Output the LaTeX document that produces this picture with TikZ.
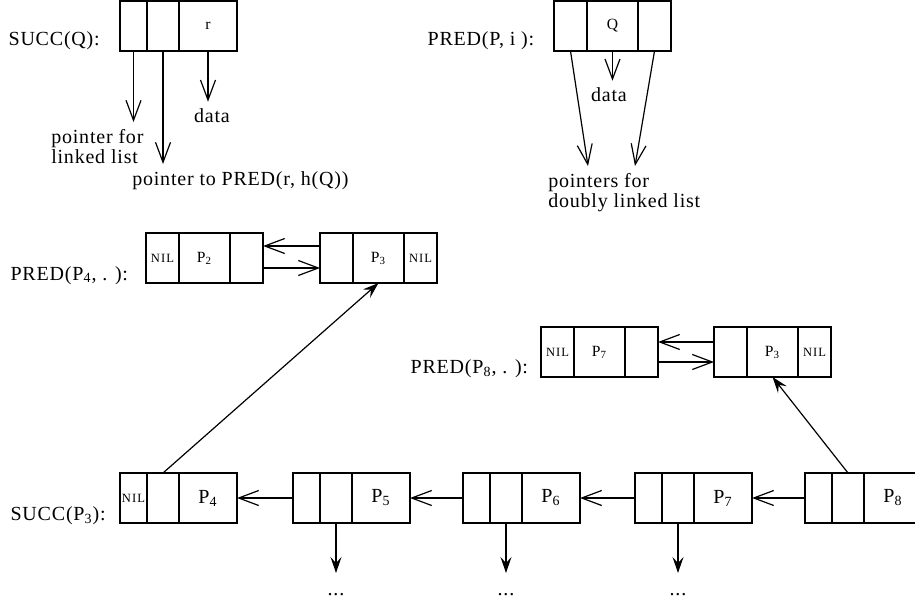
\documentclass[tikz,border=0pt]{standalone}
\usepackage{fontspec}
\setmainfont{Liberation Serif}[LetterSpace=4]
\usetikzlibrary{arrows.meta, positioning}

\newcommand{\lbltext}{\fontsize{10}{10.2}\selectfont}
\newcommand{\smalltext}{\fontsize{7.8}{9}\selectfont}
\newcommand{\niltext}{\fontsize{6.3}{7}\selectfont\addfontfeature{LetterSpace=8}}

% record with two pointer fields and a data field
\newcommand{\succbox}[4]{%
  \node[cell, minimum width=13.5pt, anchor=north west] (#1-l) at #2 {#3};
  \node[cell, minimum width=16pt, right=0pt of #1-l] (#1-m) {};
  \node[cell, minimum width=29pt, right=0pt of #1-m] (#1-r) {#4};
}
% record of a doubly linked list
\newcommand{\predbox}[5]{%
  \node[cell, font=\smalltext, minimum width=16.5pt, anchor=north west] (#1-l) at #2 {#3};
  \node[cell, font=\smalltext, minimum width=25.5pt, right=0pt of #1-l] (#1-m) {#4};
  \node[cell, font=\smalltext, minimum width=16.5pt, right=0pt of #1-m] (#1-r) {#5};
}

\begin{document}
\begin{tikzpicture}[x=0.5pt, y=-0.5pt, line width=0.6pt,
    cell/.style={draw, minimum height=25pt, inner sep=0pt, outer sep=0pt, font=\fontsize{10}{11}\selectfont},
    lbl/.style={anchor=base west, inner sep=0pt, font=\lbltext},
    note/.style={font=\lbltext, align=left},
    ptr/.style={-{Straight Barb[length=10pt,width=7.5pt]}},
    link/.style={-{Stealth[length=8pt,width=5.5pt,inset=3pt]}}]
	\clip (0,0) rectangle (915,609);
	% Record fields
	\node[lbl] (sq) at (8,46) {SUCC(Q):};
	\succbox{q}{(120,1)}{}{\smalltext r}
	\node[note, anchor=north west] (ll) at (44,122) {pointer for\\linked list};
	\node[note, anchor=north west] (pt) at (125,164) {pointer to PRED(r, h(Q))};
	\node[note] (dq) at (212,116) {data};
	\draw[ptr] (q-l.south) -- (q-l.south |- ll.north);
	\draw[ptr] (q-m.south) -- (q-m.south |- pt.north);
	\draw[ptr] (q-r.south) -- (q-r.south |- dq.north);
	\node[lbl] (pq) at (427,46) {PRED(P, i ):};
	\predbox{pp}{(554,1)}{}{Q}{}
	\node[note] (dp) at (609,95) {data};
	\node[note, anchor=north west] (dl) at (541,166) {pointers for\\doubly linked list};
	\coordinate (dl1) at (588,166);
	\coordinate (dl2) at (635,166);
	\draw[ptr] (pp-m.south) -- (pp-m.south |- dp.north);
	\draw[ptr] (pp-l.south) -- (dl1);
	\draw[ptr] (pp-r.south) -- (dl2);
	% PRED lists
	\node[lbl] (p4) at (10,280) {PRED(P\textsubscript{4}, . ):};
	\predbox{a}{(146,233)}{\niltext NIL}{P\textsubscript{2}}{}
	\predbox{b}{(320,233)}{}{P\textsubscript{3}}{\niltext NIL}
	\draw[ptr] ([yshift=6pt]b-l.west) -- ([yshift=6pt]a-r.east);
	\draw[ptr] ([yshift=-5pt]a-r.east) -- ([yshift=-5pt]b-l.west);
	\node[lbl] (p8) at (410,373) {PRED(P\textsubscript{8}, . ):};
	\predbox{c}{(541,327)}{\niltext NIL}{P\textsubscript{7}}{}
	\predbox{d}{(714,327)}{}{P\textsubscript{3}}{\niltext NIL}
	\draw[ptr] ([yshift=5pt]d-l.west) -- ([yshift=5pt]c-r.east);
	\draw[ptr] ([yshift=-5pt]c-r.east) -- ([yshift=-5pt]d-l.west);
	% SUCC list
	\node[lbl] (s3) at (10,520) {SUCC(P\textsubscript{3}):};
	\succbox{s4}{(120,473)}{\niltext NIL}{P\textsubscript{4}}
	\succbox{s5}{(293,473)}{}{P\textsubscript{5}}
	\succbox{s6}{(463,473)}{}{P\textsubscript{6}}
	\succbox{s7}{(635,473)}{}{P\textsubscript{7}}
	\succbox{s8}{(805,473)}{}{P\textsubscript{8}}
	\draw[ptr] (s5-l.west) -- (s4-r.east);
	\draw[ptr] (s6-l.west) -- (s5-r.east);
	\draw[ptr] (s7-l.west) -- (s6-r.east);
	\draw[ptr] (s8-l.west) -- (s7-r.east);
	\draw[link] (s4-m.north) -- (b-m.south);
	\draw[link] (s8-m.north) -- (d-m.south);
	% further pointers
	\foreach \s/\x in {s5/336, s6/506, s7/678} {
		\coordinate (e-\s) at (\x,573);
		\node[font=\lbltext] (dots-\s) at (\x,595) {...};
		\draw[link] (\s-m.south) -- (e-\s);
	}
\end{tikzpicture}
\end{document}
